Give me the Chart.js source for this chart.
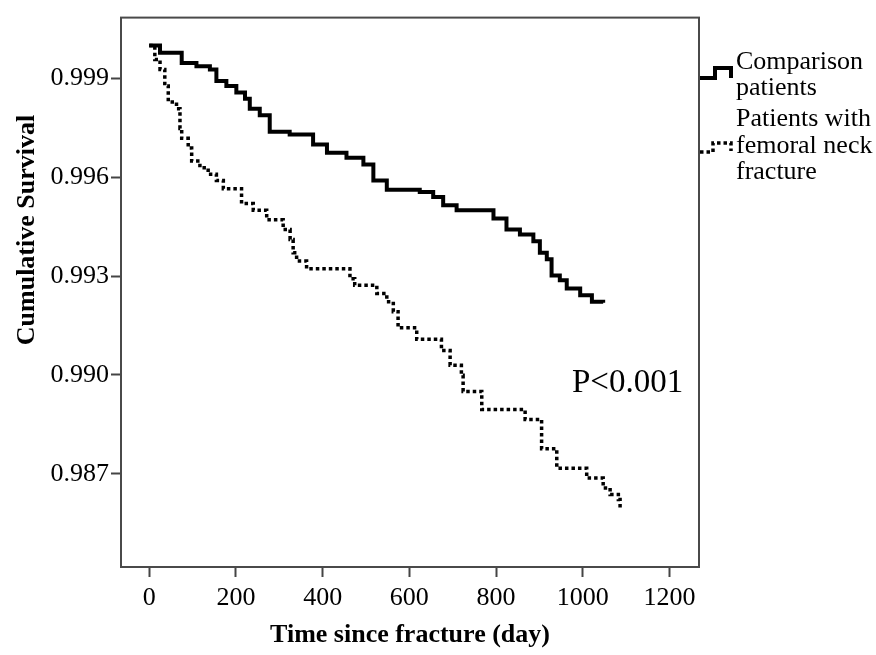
<!DOCTYPE html>
<html>
<head>
<meta charset="utf-8">
<script src="https://cdn.jsdelivr.net/npm/chart.js@4"></script>
<style>
  html, body { margin: 0; padding: 0; background: #fff; }
  #wrap { width: 876px; height: 655px; }
</style>
</head>
<body>
<div id="wrap"><canvas id="km" width="876" height="655"></canvas></div>
<script>
// survival data (day, cumulative survival)
const comparisonDays = [0, 25, 75, 109, 140, 155, 178, 201, 221, 232, 255, 278, 324, 378, 410, 455, 494, 517, 548, 624, 655, 678, 709, 794, 824, 855, 886, 901, 917, 928, 947, 963, 994, 1021, 1047];
const comparisonSurv = [1.0, 0.99978, 0.99947, 0.99937, 0.99927, 0.99892, 0.99877, 0.99857, 0.99838, 0.99808, 0.99788, 0.99738, 0.99730, 0.99699, 0.99674, 0.99659, 0.99639, 0.99590, 0.99562, 0.99555, 0.99540, 0.99515, 0.99500, 0.99475, 0.99441, 0.99426, 0.99406, 0.99371, 0.99351, 0.99302, 0.99287, 0.99262, 0.99242, 0.99222, 0.99219];

const fractureDays = [0, 13, 25, 36, 44, 63, 71, 75, 90, 98, 117, 136, 155, 171, 213, 240, 271, 309, 325, 332, 340, 363, 463, 474, 525, 548, 563, 574, 617, 674, 694, 720, 724, 767, 867, 905, 940, 1009, 1047, 1063, 1082, 1086];
const fractureSurv = [1.0, 0.99957, 0.99927, 0.99877, 0.99828, 0.99808, 0.99748, 0.99718, 0.99689, 0.99649, 0.99629, 0.99609, 0.99590, 0.99565, 0.99520, 0.99500, 0.99471, 0.99441, 0.99411, 0.99371, 0.99346, 0.99322, 0.99292, 0.99272, 0.99247, 0.99222, 0.99192, 0.99143, 0.99108, 0.99074, 0.99029, 0.98999, 0.98950, 0.98895, 0.98865, 0.98776, 0.98717, 0.98687, 0.98657, 0.98637, 0.98622, 0.98597];

const xTicks = [0, 200, 400, 600, 800, 1000, 1200];
const yTicks = [0.987, 0.990, 0.993, 0.996, 0.999];

const seriesNames = [['Comparison', 'patients'], ['Patients with', 'femoral neck', 'fracture']];
const pValueText = 'P<0.001';

const serif = '"Liberation Serif", "Times New Roman", serif';

function toPoints(days, surv) {
  return days.map((d, i) => ({ x: d, y: surv[i] }));
}

// frame, titles, legend and p value
const extras = {
  id: 'extras',
  afterDraw(chart) {
    const ctx = chart.ctx;
    const a = chart.chartArea;
    ctx.save();
    ctx.strokeStyle = '#4a4a4a';
    ctx.lineWidth = 2;
    ctx.strokeRect(a.left, a.top, a.right - a.left, a.bottom - a.top);

    ctx.fillStyle = '#000';
    ctx.font = 'bold 26px ' + serif;
    ctx.textAlign = 'center';
    ctx.textBaseline = 'middle';
    ctx.fillText('Time since fracture (day)', (a.left + a.right) / 2, 635);

    ctx.save();
    ctx.translate(27, 230);
    ctx.rotate(-Math.PI / 2);
    ctx.fillText('Cumulative Survival', 0, 0);
    ctx.restore();

    ctx.font = '33px ' + serif;
    ctx.textAlign = 'left';
    ctx.fillText(pValueText, 572, 383);

    // legend
    ctx.font = '26px ' + serif;
    const lines = [seriesNames[0][0], seriesNames[0][1], seriesNames[1][0], seriesNames[1][1], seriesNames[1][2]];
    const ys = [62, 88, 119, 146, 172];
    lines.forEach((t, i) => ctx.fillText(t, 736, ys[i]));

    ctx.strokeStyle = '#000';
    ctx.lineWidth = 4;
    ctx.beginPath();
    ctx.moveTo(700, 78); ctx.lineTo(715, 78); ctx.lineTo(715, 68);
    ctx.lineTo(731, 68); ctx.lineTo(731, 78);
    ctx.stroke();

    ctx.lineWidth = 3.5;
    ctx.setLineDash([3.5, 3]);
    ctx.beginPath();
    ctx.moveTo(700, 152); ctx.lineTo(713, 152); ctx.lineTo(713, 143);
    ctx.lineTo(731, 143); ctx.lineTo(731, 151);
    ctx.stroke();
    ctx.restore();
  }
};

new Chart(document.getElementById('km'), {
  type: 'line',
  data: {
    datasets: [
      {
        label: seriesNames[0].join(' '),
        data: toPoints(comparisonDays, comparisonSurv),
        borderColor: '#000',
        borderWidth: 4,
        stepped: true,
        pointRadius: 0,
        fill: false
      },
      {
        label: seriesNames[1].join(' '),
        data: toPoints(fractureDays, fractureSurv),
        borderColor: '#000',
        borderWidth: 3.5,
        borderDash: [3.5, 3],
        stepped: true,
        pointRadius: 0,
        fill: false
      }
    ]
  },
  options: {
    responsive: false,
    animation: false,
    layout: { padding: { top: 7, right: 177, left: 0, bottom: 0 } },
    plugins: { legend: { display: false }, tooltip: { enabled: false } },
    scales: {
      x: {
        type: 'linear',
        min: -65,
        max: 1268,
        afterBuildTicks: (s) => { s.ticks = xTicks.map(v => ({ value: v })); },
        afterFit: (s) => { s.height = 88; },
        grid: { drawOnChartArea: false, tickLength: 10, tickColor: '#444', tickWidth: 2 },
        border: { display: false },
        ticks: {
          color: '#000',
          font: { family: serif, size: 26 },
          padding: 6,
          maxRotation: 0,
          callback: (v) => String(v)
        }
      },
      y: {
        min: 0.98417,
        max: 1.000845,
        afterBuildTicks: (s) => { s.ticks = yTicks.map(v => ({ value: v })); },
        afterFit: (s) => { s.width = 121; },
        grid: { drawOnChartArea: false, tickLength: 10, tickColor: '#444', tickWidth: 2 },
        border: { display: false },
        ticks: {
          color: '#000',
          font: { family: serif, size: 26 },
          padding: 2,
          callback: (v) => Number(v).toFixed(3)
        }
      }
    }
  },
  plugins: [extras]
});
</script>
</body>
</html>
